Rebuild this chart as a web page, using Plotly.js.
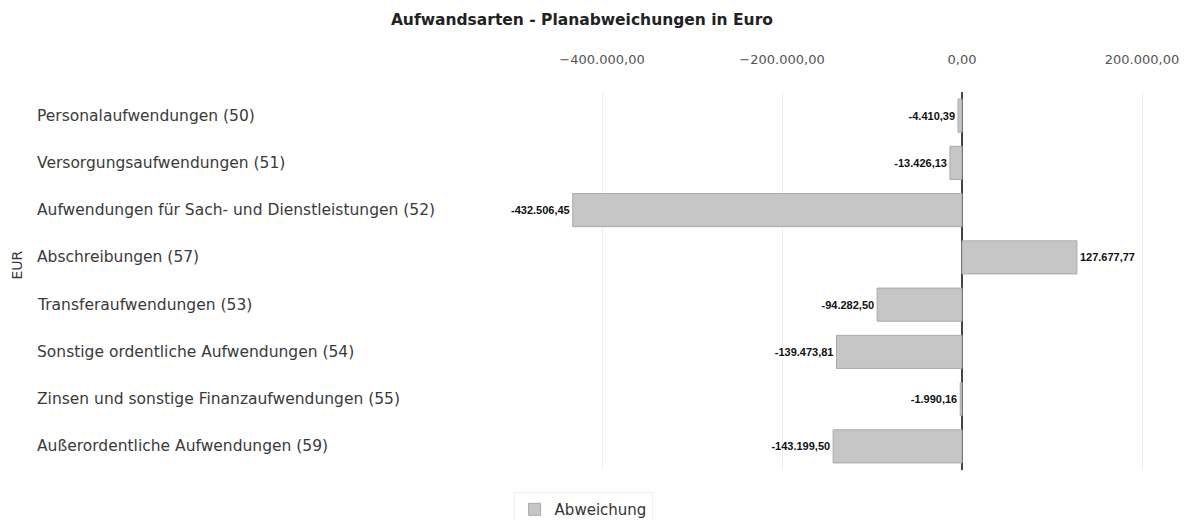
<!DOCTYPE html>
<html>
<head>
<meta charset="utf-8">
<script src="https://cdn.plot.ly/plotly-3.0.1.min.js"></script>
<style>html,body{margin:0;padding:0;background:#fff;}#chart{width:1190px;height:520px;}</style>
</head>
<body>
<div id="chart"></div>
<script>
const categories = [
  "Personalaufwendungen (50)",
  "Versorgungsaufwendungen (51)",
  "Aufwendungen für Sach- und Dienstleistungen (52)",
  "Abschreibungen (57)",
  "Transferaufwendungen (53)",
  "Sonstige ordentliche Aufwendungen (54)",
  "Zinsen und sonstige Finanzaufwendungen (55)",
  "Außerordentliche Aufwendungen (59)"
];
const abweichung = [-4410.39, -13426.13, -432506.45, 127677.77, -94282.50, -139473.81, -1990.16, -143199.50];
const tickValues = [-400000, -200000, 0, 200000];
const seriesName = "Abweichung";
const chartTitle = "Aufwandsarten - Planabweichungen in Euro";
const yTitle = "EUR";

const trace = {
  type: "bar",
  orientation: "h",
  name: seriesName,
  y: categories,
  x: abweichung,
  marker: {color: "#c6c6c6", line: {color: "#a9a9a9", width: 1}},
  texttemplate: "%{x:,.2f}",
  textposition: "outside",
  textfont: {family: "Liberation Sans, Arial, sans-serif", size: 11, color: "#111", weight: "bold"},
  cliponaxis: false,
  showlegend: true,
  hoverinfo: "x+y"
};

const annotations = categories.map(c => ({
  xref: "paper", yref: "y", x: -0.608, y: c, xanchor: "left", yanchor: "middle",
  text: c, showarrow: false,
  font: {family: "DejaVu Sans, sans-serif", size: 15.5, color: "#3a3a3a"}
}));
annotations.push({
  xref: "paper", yref: "paper", x: -0.633, y: 0.542, xanchor: "center", yanchor: "middle",
  text: yTitle, textangle: -90, showarrow: false,
  font: {family: "DejaVu Sans, sans-serif", size: 14, color: "#3a3a3a"}
});

const layout = {
  width: 1190, height: 520,
  paper_bgcolor: "#fff", plot_bgcolor: "#fff",
  separators: ",.",
  margin: {l: 470, r: 5, t: 92, b: 50, autoexpand: false},
  title: {
    text: chartTitle, xref: "container", yref: "container", x: 0.489, y: 0.962,
    xanchor: "center", yanchor: "middle",
    font: {family: "DejaVu Sans, sans-serif", size: 15.5, color: "#222", weight: "bold"}
  },
  xaxis: {
    side: "top", range: [-546667, 247778], tickvals: tickValues, tickformat: ",.2f",
    showgrid: true, gridcolor: "#eeeeee", gridwidth: 1,
    zeroline: true, zerolinecolor: "#444", zerolinewidth: 1.5,
    showline: false, ticks: "outside", ticklen: 0, ticklabelstandoff: 22,
    tickfont: {family: "DejaVu Sans, sans-serif", size: 13, color: "#555"},
    automargin: false,
    fixedrange: true
  },
  yaxis: {
    autorange: "reversed", showticklabels: false, showgrid: false, zeroline: false,
    showline: false, ticks: "", fixedrange: true, automargin: false
  },
  bargap: 0.3,
  showlegend: true,
  legend: {
    orientation: "h", xref: "container", yref: "container",
    x: 0.49, xanchor: "center", y: 0.02, yanchor: "middle",
    font: {family: "DejaVu Sans, sans-serif", size: 15, color: "#333"},
    bordercolor: "#f0f0f0", borderwidth: 1, itemwidth: 30
  },
  annotations: annotations
};

Plotly.newPlot("chart", [trace], layout, {displayModeBar: false, staticPlot: true});
</script>
</body>
</html>
